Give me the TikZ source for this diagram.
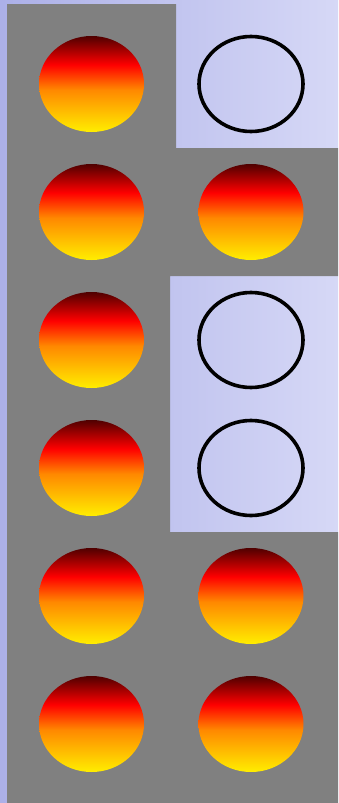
\documentclass[tikz,border=0pt]{standalone}
\usetikzlibrary{shapes.geometric}
\definecolor{bgleft}{RGB}{172,176,232}
\definecolor{bgright}{RGB}{214,216,246}
\definecolor{cellgray}{RGB}{128,128,128}
\definecolor{firey}{RGB}{255,238,0}
\definecolor{fireo}{RGB}{255,136,0}
\definecolor{firer}{RGB}{255,0,0}
\definecolor{fired}{RGB}{80,0,0}
\pgfdeclareverticalshading{fire}{100bp}{%
  color(0bp)=(firey); color(25bp)=(firey); color(47bp)=(fireo);
  color(60bp)=(firer); color(75bp)=(fired); color(100bp)=(fired)}
\begin{document}
\begin{tikzpicture}[x=1pt,y=-1pt,
  ball/.style={ellipse,minimum width=105pt,minimum height=96pt,inner sep=0pt,shading=fire},
  ring/.style={ellipse,minimum width=104pt,minimum height=95pt,inner sep=0pt,draw=black,line width=3.6pt}]
\useasboundingbox (0,0) rectangle (338,803);
\shade[left color=bgleft,right color=bgright] (0,0) rectangle (338,803);
\fill[cellgray] (7,4) -- (176,4) -- (176,148) -- (338,148) -- (338,276) -- (170,276)
  -- (170,532) -- (338,532) -- (338,803) -- (7,803) -- cycle;
% left column
\node[ball] (l1) at (91.5,84) {};
\node[ball] (l2) at (91.5,212) {};
\node[ball] (l3) at (91.5,340) {};
\node[ball] (l4) at (91.5,468) {};
\node[ball] (l5) at (91.5,596) {};
\node[ball] (l6) at (91.5,724) {};
% right column
\node[ring] (r1) at (251,84) {};
\node[ball] (r2) at (251,212) {};
\node[ring] (r3) at (251,340) {};
\node[ring] (r4) at (251,468) {};
\node[ball] (r5) at (251,596) {};
\node[ball] (r6) at (251,724) {};
\end{tikzpicture}
\end{document}
